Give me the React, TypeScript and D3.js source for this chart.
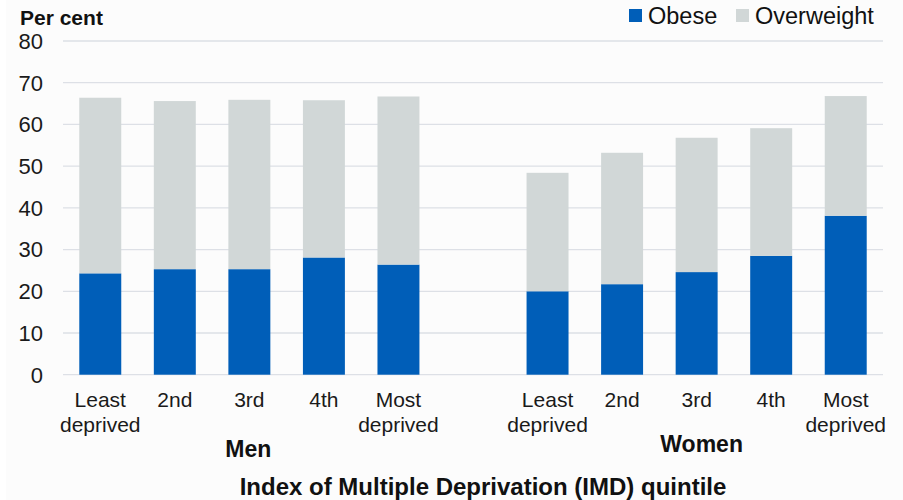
import React from "react";
import * as d3 from "d3";

const categories = ["Least deprived", "2nd", "3rd", "4th", "Most deprived"];
const groups = ["Men", "Women"];
const menObese = [24.3, 25.3, 25.3, 28.1, 26.4];
const menOverweight = [42.1, 40.3, 40.6, 37.7, 40.3];
const womenObese = [20.0, 21.7, 24.6, 28.5, 38.1];
const womenOverweight = [28.4, 31.5, 32.2, 30.6, 28.7];
const yTicks = [0, 10, 20, 30, 40, 50, 60, 70, 80];
const seriesNames = ["Obese", "Overweight"];
const colors = ["#005EB8", "#D1D7D7"];

const W = 903;
const H = 500;
const FONT = "'Liberation Sans', Arial, Helvetica, sans-serif";

type Row = { key: string; label: string; group: string; obese: number; overweight: number };

export default function App() {
  const rows: Row[] = [];
  categories.forEach((c, i) =>
    rows.push({ key: `m${i}`, label: c, group: groups[0], obese: menObese[i], overweight: menOverweight[i] })
  );
  const gapKey = "gap";
  categories.forEach((c, i) =>
    rows.push({ key: `w${i}`, label: c, group: groups[1], obese: womenObese[i], overweight: womenOverweight[i] })
  );
  const domain = [...rows.slice(0, 5).map((r) => r.key), gapKey, ...rows.slice(5).map((r) => r.key)];

  const x = d3.scaleBand<string>().domain(domain).range([63, 883]).padding(0);
  const y = d3.scaleLinear().domain([0, 80]).range([374.7, 41]);
  const barW = x.bandwidth() * 0.563;

  const stack = d3.stack<Row>().keys(["obese", "overweight"]);
  const stacked = stack(rows);

  const groupCenter = (g: string) => {
    const rs = rows.filter((r) => r.group === g);
    const a = x(rs[0].key)!;
    const b = x(rs[rs.length - 1].key)! + x.bandwidth();
    return (a + b) / 2;
  };

  return (
    <svg
      width={W}
      height={H}
      style={{ position: "absolute", left: 0, top: 0, fontFamily: FONT }}
    >
      <rect x={0} y={0} width={W} height={H} fill="#fcfcfc" />
      <rect x={0} y={0} width={6} height={H} fill="#ffffff" />
      {yTicks.map((t) => (
        <g key={t}>
          <line x1={63} x2={883} y1={y(t)} y2={y(t)} stroke="#dde0e6" strokeWidth={1.3} />
          <text x={43} y={y(t)} dy="0.36em" textAnchor="end" fontSize={22} fill="#1a1a1a">
            {t}
          </text>
        </g>
      ))}
      <text x={20} y={25} fontSize={21} fontWeight="bold" fill="#111">
        Per cent
      </text>
      {stacked.map((s, si) => (
        <g key={s.key} fill={colors[si]}>
          {s.map((d, i) => {
            const r = rows[i];
            const cx = x(r.key)! + x.bandwidth() / 2;
            return (
              <rect
                key={r.key}
                x={cx - barW / 2}
                y={y(d[1])}
                width={barW}
                height={y(d[0]) - y(d[1])}
              />
            );
          })}
        </g>
      ))}
      {rows.map((r) => {
        const cx = x(r.key)! + x.bandwidth() / 2;
        const parts = r.label.split(" ");
        return (
          <text key={r.key} x={cx} y={407} textAnchor="middle" fontSize={21} fill="#1a1a1a">
            {parts.map((p, i) => (
              <tspan key={i} x={cx} dy={i === 0 ? 0 : 25}>
                {p}
              </tspan>
            ))}
          </text>
        );
      })}
      {groups.map((g, i) => (
        <text
          key={g}
          x={groupCenter(g) - (i === 0 ? 1 : -5)}
          y={i === 0 ? 457 : 452}
          textAnchor="middle"
          fontSize={23}
          fontWeight="bold"
          fill="#111"
        >
          {g}
        </text>
      ))}
      <text x={483} y={495} textAnchor="middle" fontSize={24} fontWeight="bold" fill="#111">
        Index of Multiple Deprivation (IMD) quintile
      </text>
      {seriesNames.map((n, i) => {
        const lx = [629, 736][i];
        return (
          <g key={n}>
            <rect x={lx} y={9} width={13} height={13} fill={colors[i]} />
            <text x={lx + 19} y={23.5} fontSize={23.5} fill="#111">
              {n}
            </text>
          </g>
        );
      })}
    </svg>
  );
}
